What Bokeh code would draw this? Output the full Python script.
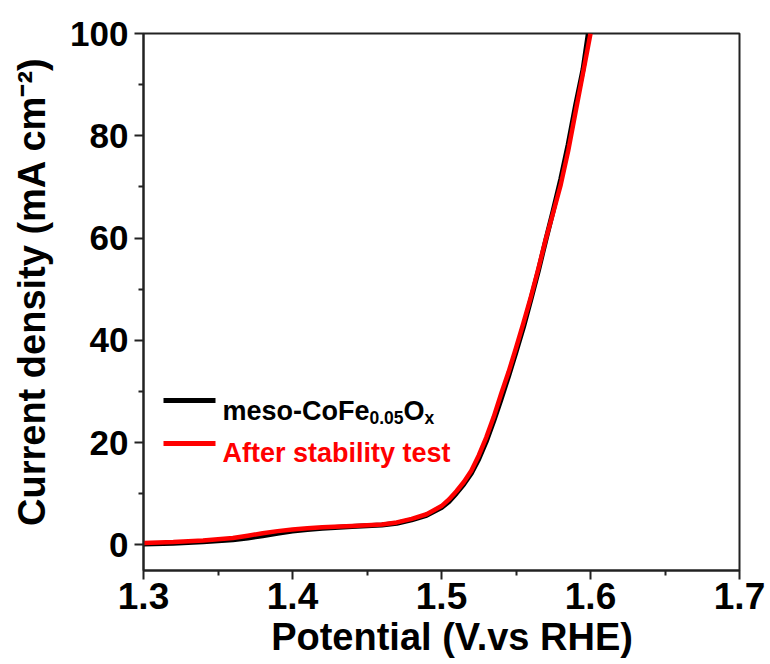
from bokeh.plotting import figure
from bokeh.models import Label, BoxAnnotation, Range1d, FixedTicker
from bokeh.embed import file_html
from bokeh.resources import INLINE

# ---------------- data ----------------
potential_meso = [1.30, 1.32, 1.34, 1.36, 1.37, 1.38, 1.39, 1.40, 1.41, 1.42, 1.44, 1.46,
                  1.47, 1.48, 1.49, 1.50, 1.505, 1.51, 1.515, 1.52, 1.525, 1.53, 1.535,
                  1.54, 1.545, 1.55, 1.555, 1.56, 1.565, 1.57, 1.575, 1.58, 1.585, 1.59,
                  1.595, 1.5985]
current_meso = [0.2, 0.35, 0.6, 1.0, 1.35, 1.8, 2.3, 2.7, 3.0, 3.25, 3.6, 3.9,
                4.25, 4.9, 5.8, 7.3, 8.5, 10.1, 11.9, 14.0, 16.8, 20.2, 24.2,
                28.5, 33.0, 37.7, 42.6, 48.0, 53.6, 59.6, 65.4, 71.5, 78.3, 86.0,
                93.0, 100.0]

potential_after = [1.30, 1.32, 1.34, 1.36, 1.37, 1.38, 1.39, 1.40, 1.41, 1.42, 1.44, 1.46,
                   1.47, 1.48, 1.49, 1.50, 1.505, 1.51, 1.515, 1.52, 1.525, 1.53, 1.535,
                   1.54, 1.545, 1.55, 1.555, 1.56, 1.565, 1.57, 1.575, 1.58, 1.585, 1.59,
                   1.595, 1.60]
current_after = [0.4, 0.55, 0.85, 1.35, 1.8, 2.3, 2.7, 3.0, 3.25, 3.45, 3.7, 4.0,
                 4.4, 5.1, 6.0, 7.6, 8.9, 10.5, 12.3, 14.5, 17.5, 21.0, 25.0,
                 29.5, 33.8, 38.5, 43.4, 48.5, 54.0, 59.8, 65.0, 70.4, 77.0, 84.7,
                 92.3, 100.0]

x_ticks = [1.3, 1.4, 1.5, 1.6, 1.7]
x_tick_labels = ["1.3", "1.4", "1.5", "1.6", "1.7"]
x_minor = [1.35, 1.45, 1.55, 1.65]
y_ticks = [0, 20, 40, 60, 80, 100]
y_tick_labels = ["0", "20", "40", "60", "80", "100"]
y_minor = [10, 30, 50, 70, 90]

x_title = "Potential (V.vs RHE)"
y_title = "Current density (mA cm\u207b\u00b2)"
legend_main = ["meso-CoFe", "0.05", "O", "x"]
legend_after = "After stability test"

FONT = "Liberation Sans"
NBSP = "\u00a0"

p = figure(width=770, height=664, output_backend="svg", toolbar_location=None,
           x_range=Range1d(1.3, 1.7), y_range=Range1d(-5, 100),
           min_border_left=143, min_border_right=31, min_border_top=33, min_border_bottom=94)
p.title.visible = False
p.grid.visible = False
p.background_fill_color = "white"
p.border_fill_color = "white"
p.outline_line_color = "#222222"
p.outline_line_width = 2

p.xaxis.ticker = FixedTicker(ticks=x_ticks, minor_ticks=x_minor)
p.yaxis.ticker = FixedTicker(ticks=y_ticks, minor_ticks=y_minor)
p.xaxis.major_label_overrides = dict(zip(x_ticks, x_tick_labels))
p.yaxis.major_label_overrides = dict(zip(y_ticks, y_tick_labels))

for ax in (p.xaxis[0], p.yaxis[0]):
    ax.axis_line_width = 2
    ax.axis_line_color = "#222222"
    ax.major_tick_line_width = 2
    ax.minor_tick_line_width = 2
    ax.major_tick_line_color = "#222222"
    ax.minor_tick_line_color = "#222222"
    ax.major_tick_in = 0
    ax.major_tick_out = 9
    ax.minor_tick_in = 0
    ax.minor_tick_out = 5
    ax.major_label_text_font = FONT
    ax.major_label_text_font_style = "bold"
    ax.major_label_text_color = "black"
    ax.axis_label_text_font = FONT
    ax.axis_label_text_font_style = "bold"
    ax.axis_label_text_color = "black"
    ax.axis_label_text_font_size = "38px"

p.xaxis.major_label_text_font_size = "37px"
p.yaxis.major_label_text_font_size = "35px"
p.xaxis.major_label_standoff = 3
p.yaxis.major_label_standoff = 6

p.xaxis.axis_label = NBSP * 2 + x_title
p.xaxis.axis_label_standoff = 4
p.yaxis.axis_label = NBSP * 2 + y_title
p.yaxis.axis_label_standoff = 14

p.line(potential_meso, current_meso, line_color="black", line_width=5, line_join="round")
p.line(potential_after, current_after, line_color="#FF0000", line_width=4.5, line_join="round")


def lab(text, x, y, size, color="black"):
    p.add_layout(Label(x=x, y=y, x_units="screen", y_units="screen", text=text,
                       text_font=FONT, text_font_style="bold", text_font_size=f"{size}px",
                       text_color=color, text_align="left", text_baseline="alphabetic"))


# ---- legend (screen units relative to the frame) ----
fl = 27
fs_sub = 17.5
lx = 79
for (yb, yt, col) in ((167.5, 172.5, "black"), (124.5, 129.5, "#FF0000")):
    p.add_layout(BoxAnnotation(left=20, right=72, bottom=yb, top=yt,
                               left_units="screen", right_units="screen",
                               bottom_units="screen", top_units="screen",
                               fill_color=col, fill_alpha=1, line_alpha=0))
x = lx
lab(legend_main[0], x, 160, fl)
x += 5.445 * fl
lab(legend_main[1], x, 153, fs_sub)
x += 1.946 * fs_sub
lab(legend_main[2], x, 160, fl)
x += 0.778 * fl
lab(legend_main[3], x, 153, fs_sub)

lab(legend_after, lx, 118, fl, color="#FF0000")

open("out.html", "w").write(file_html(p, INLINE))
